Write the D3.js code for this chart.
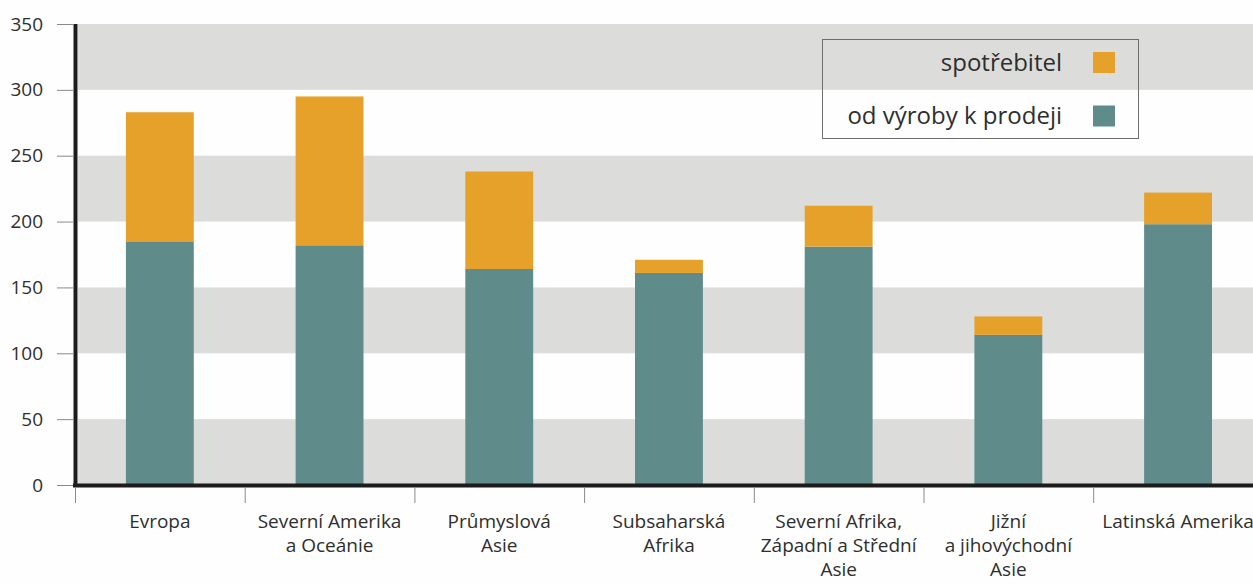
<!DOCTYPE html>
<html>
<head>
<meta charset="utf-8">
<script src="https://cdn.jsdelivr.net/npm/d3@7"></script>
<style>
  html, body { margin: 0; padding: 0; background: #fefefe; }
  svg { display: block; }
  text { font-family: "Open Sans", "Noto Sans", sans-serif; fill: #2e2e2e; }
</style>
</head>
<body>
<svg id="chart" width="1253" height="584"></svg>
<script>
// ---- data ----
const categories = [
  ["Evropa"],
  ["Severní Amerika", "a Oceánie"],
  ["Průmyslová", "Asie"],
  ["Subsaharská", "Afrika"],
  ["Severní Afrika,", "Západní a Střední", "Asie"],
  ["Jižní", "a jihovýchodní", "Asie"],
  ["Latinská Amerika"]
];
const productionToRetail = [185, 182, 164, 161, 181, 114, 198];
const consumer = [98, 113, 74, 10, 31, 14, 24];
const seriesNames = ["spotřebitel", "od výroby k prodeji"];
const yTicks = [0, 50, 100, 150, 200, 250, 300, 350];

const colors = { consumer: "#e6a12b", production: "#5f8b8b" };

const svg = d3.select("#chart");
const W = 1253, H = 584;

const keys = categories.map(c => c.join(" "));
const x = d3.scaleBand().domain(keys).range([75, 75 + 7 * 169.7]).padding(0);
const y = d3.scaleLinear().domain([0, 350]).range([485, 24]);

// background bands
const bandStarts = [0, 100, 200, 300];
svg.append("g").selectAll("rect").data(bandStarts).join("rect")
  .attr("x", 78).attr("width", W - 78)
  .attr("y", d => y(d + 50)).attr("height", d => y(d) - y(d + 50))
  .attr("fill", "#dcdcdb");

// stacked bars
const barW = x.bandwidth() * 0.4;
const stackData = keys.map((k, i) => ({ key: k, production: productionToRetail[i], consumer: consumer[i] }));
const stack = d3.stack().keys(["production", "consumer"])(stackData);
const gBars = svg.append("g");
stack.forEach(layer => {
  gBars.append("g").attr("fill", colors[layer.key])
    .selectAll("rect").data(layer).join("rect")
    .attr("x", d => x(d.data.key) + (x.bandwidth() - barW) / 2)
    .attr("width", barW)
    .attr("y", d => y(d[1]))
    .attr("height", d => y(d[0]) - y(d[1]));
});

// y axis
const yAxis = d3.axisLeft(y).tickValues(yTicks).tickSize(16).tickPadding(14);
const gy = svg.append("g").attr("transform", "translate(73,0)").call(yAxis);
gy.select(".domain").remove();
gy.selectAll(".tick line").attr("stroke", "#8a8a8a");
gy.selectAll(".tick text").style("font-size", "19px").attr("fill", "#2e2e2e");
svg.append("line").attr("x1", 75.5).attr("x2", 75.5).attr("y1", y(350)).attr("y2", 487)
  .attr("stroke", "#1c1c1c").attr("stroke-width", 4);

// x axis
const gx = svg.append("g").attr("transform", "translate(0,487)")
  .call(d3.axisBottom(x).tickSize(0).tickFormat(""));
gx.select(".domain").remove();
svg.append("line").attr("x1", 73).attr("x2", W).attr("y1", 485.5).attr("y2", 485.5)
  .attr("stroke", "#1c1c1c").attr("stroke-width", 4);
// boundary ticks
const bounds = keys.map(k => x(k));
svg.append("g").selectAll("line").data(bounds).join("line")
  .attr("x1", d => d + 0.5).attr("x2", d => d + 0.5)
  .attr("y1", 487).attr("y2", 503)
  .attr("stroke", "#8a8a8a").attr("stroke-width", 1);

// category labels
const lab = svg.append("g").selectAll("text").data(categories).join("text")
  .attr("text-anchor", "middle")
  .attr("x", (d, i) => x(keys[i]) + x.bandwidth() / 2)
  .attr("y", 528)
  .style("font-size", "19px");
lab.selectAll("tspan").data(d => d).join("tspan")
  .attr("x", function() { return this.parentNode.getAttribute("x"); })
  .attr("dy", (d, j) => j === 0 ? 0 : 24)
  .text(d => d);

// legend
const lg = svg.append("g");
lg.append("rect").attr("x", 822.5).attr("y", 39.5).attr("width", 316).attr("height", 99)
  .attr("fill", "none").attr("stroke", "#6e6e6e").attr("stroke-width", 1);
const legendItems = [
  { name: seriesNames[0], color: colors.consumer, cy: 62.5 },
  { name: seriesNames[1], color: colors.production, cy: 116 }
];
legendItems.forEach(it => {
  lg.append("rect").attr("x", 1093).attr("y", it.cy - 10.5).attr("width", 22).attr("height", 21).attr("fill", it.color);
  lg.append("text").attr("x", 1062).attr("y", it.cy + 8).attr("text-anchor", "end")
    .style("font-size", "24px").text(it.name);
});
</script>
</body>
</html>
